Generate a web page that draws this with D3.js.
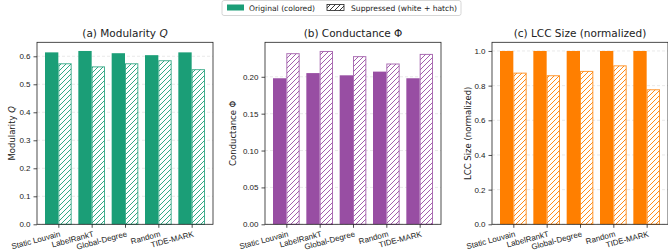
<!DOCTYPE html>
<html>
<head>
<meta charset="utf-8">
<script src="https://cdn.jsdelivr.net/npm/d3@7"></script>
<style>
  body { margin: 0; background: #fff; }
  svg { font-family: "DejaVu Sans", sans-serif; }
</style>
</head>
<body>
<svg id="chart" width="668" height="251"></svg>
<script>
const categories = ["Static Louvain", "LabelRankT", "Global-Degree", "Random", "TIDE-MARK"];

const modOrig = [0.614, 0.619, 0.611, 0.604, 0.614];
const modSupp = [0.575, 0.564, 0.575, 0.586, 0.554];
const condOrig = [0.198, 0.205, 0.202, 0.207, 0.198];
const condSupp = [0.232, 0.235, 0.228, 0.218, 0.231];
const lccOrig = [1.0, 1.0, 1.0, 1.0, 1.0];
const lccSupp = [0.875, 0.860, 0.885, 0.917, 0.779];

const modTicks = [0, 0.1, 0.2, 0.3, 0.4, 0.5, 0.6];
const condTicks = [0, 0.05, 0.10, 0.15, 0.20];
const lccTicks = [0, 0.2, 0.4, 0.6, 0.8, 1.0];

const legendLabels = ["Original (colored)", "Suppressed (white + hatch)"];

const panels = [
  { title: ["(a) Modularity ", "Q"], ylabel: ["Modularity ", "Q"], orig: modOrig, supp: modSupp,
    ticks: modTicks, fmt: d3.format(".1f"), color: "#1b9e77", left: 37, ylabX: 12 },
  { title: ["(b) Conductance Φ", ""], ylabel: ["Conductance Φ", ""], orig: condOrig, supp: condSupp,
    ticks: condTicks, fmt: d3.format(".2f"), color: "#984ea3", left: 265, ylabX: 233 },
  { title: ["(c) LCC Size (normalized)", ""], ylabel: ["LCC Size (normalized)", ""], orig: lccOrig, supp: lccSupp,
    ticks: lccTicks, fmt: d3.format(".1f"), color: "#ff7f00", left: 492, ylabX: 468 }
];

const svg = d3.select("#chart");
const axTop = 42.3, axBottom = 224.3, axW = 176;
const barW = 0.4;

const defs = svg.append("defs");
function hatch(id, color) {
  const p = defs.append("pattern")
    .attr("id", id)
    .attr("patternUnits", "userSpaceOnUse")
    .attr("width", 5).attr("height", 5);
  p.append("rect").attr("width", 5).attr("height", 5).attr("fill", "#fff");
  p.append("path")
    .attr("d", "M0,5 L5,0 M-1,1 L1,-1 M4,6 L6,4")
    .attr("stroke", color)
    .attr("stroke-width", 0.9);
}

panels.forEach((p, k) => {
  hatch("h" + k, p.color);
  const maxV = d3.max(p.orig.concat(p.supp));
  const y = d3.scaleLinear().domain([0, maxV * 1.05]).range([axBottom, axTop]);
  const span = (categories.length - 1) + 2 * barW;
  const x = d3.scaleLinear()
    .domain([-barW - 0.05 * span, categories.length - 1 + barW + 0.05 * span])
    .range([p.left, p.left + axW]);

  const g = svg.append("g");

  // grid
  g.selectAll(".grid").data(p.ticks).enter().append("line")
    .attr("x1", p.left).attr("x2", p.left + axW)
    .attr("y1", d => y(d)).attr("y2", d => y(d))
    .attr("stroke", "#b0b0b0").attr("stroke-opacity", 0.35)
    .attr("stroke-width", 0.8).attr("stroke-dasharray", "3,2");

  // original bars
  g.selectAll(".orig").data(p.orig).enter().append("rect")
    .attr("x", (d, i) => x(i - barW))
    .attr("width", (d, i) => x(i) - x(i - barW))
    .attr("y", d => y(d))
    .attr("height", d => y(0) - y(d))
    .attr("fill", p.color);

  // suppressed bars
  g.selectAll(".supp").data(p.supp).enter().append("rect")
    .attr("x", (d, i) => x(i) + 0.5)
    .attr("width", (d, i) => x(i + barW) - x(i) - 1)
    .attr("y", d => y(d) + 0.5)
    .attr("height", d => y(0) - y(d) - 0.5)
    .attr("fill", "url(#h" + k + ")")
    .attr("stroke", p.color).attr("stroke-opacity", 0.8)
    .attr("stroke-width", 1);

  // frame
  g.append("rect")
    .attr("x", p.left).attr("y", axTop)
    .attr("width", axW).attr("height", axBottom - axTop)
    .attr("fill", "none").attr("stroke", "#222").attr("stroke-width", 0.8);

  // y axis
  const yAxis = d3.axisLeft(y).tickValues(p.ticks).tickFormat(p.fmt).tickSize(3.5).tickPadding(3);
  const ya = g.append("g").attr("transform", `translate(${p.left},0)`).call(yAxis);
  ya.select(".domain").remove();
  ya.selectAll("line").attr("stroke", "#222").attr("stroke-width", 0.8);
  ya.selectAll("text").attr("font-size", 8).attr("fill", "#222");

  // x axis
  const xAxis = d3.axisBottom(x).tickValues(d3.range(categories.length)).tickFormat(i => categories[i]).tickSize(3.5);
  const xa = g.append("g").attr("transform", `translate(0,${axBottom})`).call(xAxis);
  xa.select(".domain").remove();
  xa.selectAll("line").attr("stroke", "#222").attr("stroke-width", 0.8);
  xa.selectAll("text")
    .attr("font-size", 8).attr("fill", "#222")
    .attr("text-anchor", "end")
    .attr("dy", null).attr("y", null)
    .attr("transform", "translate(2,12) rotate(-15)");

  // title
  const t = g.append("text")
    .attr("x", p.left + axW / 2).attr("y", 37)
    .attr("text-anchor", "middle").attr("font-size", 10.5).attr("fill", "#222");
  t.append("tspan").text(p.title[0]);
  if (p.title[1]) t.append("tspan").attr("font-style", "italic").text(p.title[1]);

  // y label
  const yl = g.append("text")
    .attr("transform", `translate(${p.ylabX},${(axTop + axBottom) / 2}) rotate(-90)`)
    .attr("text-anchor", "middle").attr("dominant-baseline", "middle")
    .attr("font-size", 8.5).attr("fill", "#222");
  yl.append("tspan").text(p.ylabel[0]);
  if (p.ylabel[1]) yl.append("tspan").attr("font-style", "italic").text(p.ylabel[1]);
});

// legend
hatch("hl", "#222");
const lg = svg.append("g");
lg.append("rect")
  .attr("x", 222).attr("y", 0.5).attr("width", 239).attr("height", 15)
  .attr("rx", 2).attr("fill", "#fff").attr("stroke", "#ccc").attr("stroke-width", 0.8);
lg.append("rect").attr("x", 227).attr("y", 4.5).attr("width", 17).attr("height", 6)
  .attr("fill", panels[0].color);
lg.append("rect").attr("x", 327).attr("y", 4.5).attr("width", 17).attr("height", 6)
  .attr("fill", "url(#hl)").attr("stroke", "#222").attr("stroke-width", 0.8);
lg.selectAll(".lt").data(legendLabels).enter().append("text")
  .attr("x", (d, i) => i === 0 ? 249 : 351)
  .attr("y", 10.5)
  .attr("font-size", 7.6).attr("fill", "#222")
  .text(d => d);
</script>
</body>
</html>
